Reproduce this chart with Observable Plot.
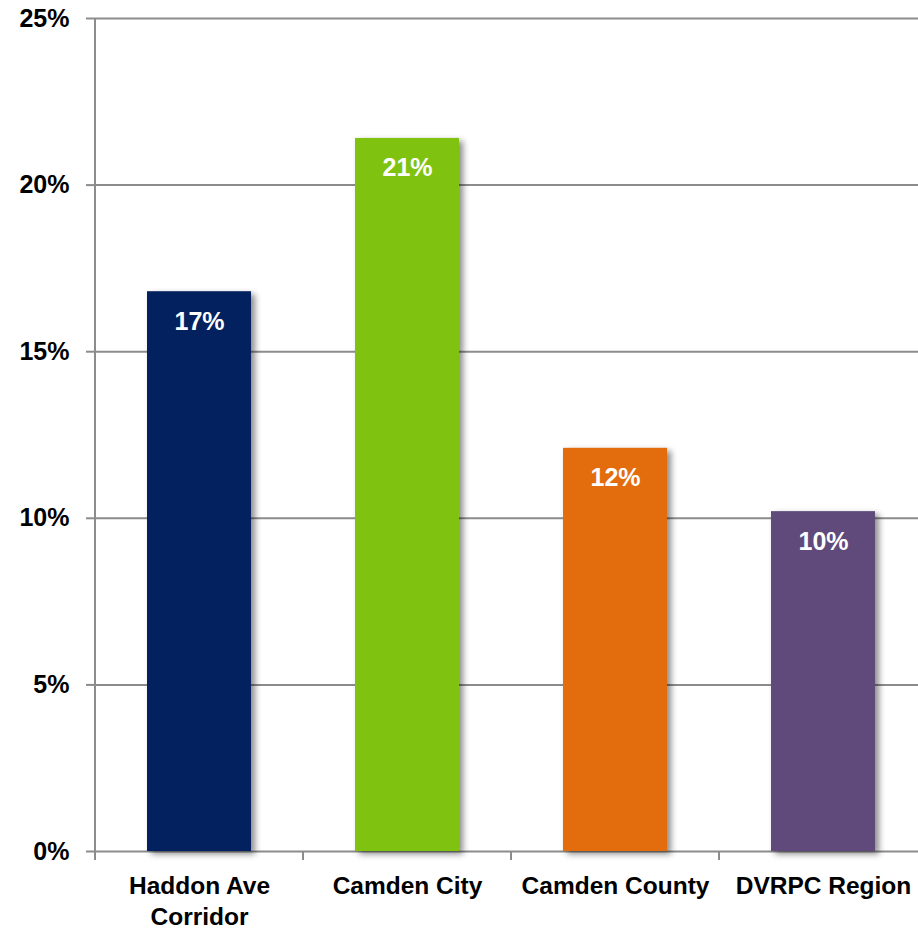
<!DOCTYPE html>
<html>
<head>
<meta charset="utf-8">
<script src="https://cdn.jsdelivr.net/npm/d3@7"></script>
<script src="https://cdn.jsdelivr.net/npm/@observablehq/plot@0.6"></script>
<style>
  html, body { margin: 0; padding: 0; background: #fff; }
  #chart svg { display: block; }
</style>
</head>
<body>
<div id="chart"></div>
<script>
const categories = ["Haddon Ave Corridor", "Camden City", "Camden County", "DVRPC Region"];
const axisLabels = ["Haddon Ave\nCorridor", "Camden City", "Camden County", "DVRPC Region"];
const values = [16.8, 21.4, 12.1, 10.2];
const valueLabels = ["17%", "21%", "12%", "10%"];
const colors = ["#02215E", "#7FC310", "#E36C0C", "#604A7B"];
const yTicks = [0, 5, 10, 15, 20, 25];

const data = categories.map((c, i) => ({category: c, value: values[i], label: valueLabels[i], axis: axisLabels[i]}));

const font = "'Liberation Sans', Arial, sans-serif";

// Separator ticks + vertical axis line, derived from the x scale
function separators(index, scales, values, dims) {
  const g = d3.create("svg:g");
  const x = scales.x;
  const bw = x.bandwidth();
  const step = x.step();
  const bottom = dims.height - dims.marginBottom;
  const bounds = x.domain().map(c => x(c) - (step - bw) / 2);
  g.append("line")
    .attr("x1", bounds[0]).attr("x2", bounds[0])
    .attr("y1", dims.marginTop).attr("y2", bottom + 9)
    .attr("stroke", "#8c8c8c").attr("stroke-width", 2);
  bounds.slice(1).forEach(b => {
    g.append("line")
      .attr("x1", b).attr("x2", b)
      .attr("y1", bottom).attr("y2", bottom + 9)
      .attr("stroke", "#8c8c8c").attr("stroke-width", 2);
  });
  return g.node();
}

const chart = Plot.plot({
  width: 918,
  height: 930,
  marginTop: 18,
  marginBottom: 79,
  marginLeft: 95,
  marginRight: 0,
  style: {fontFamily: font, fontSize: "24px", fontWeight: "bold", color: "#000", background: "#fff"},
  x: {domain: categories, range: [94, 927], paddingInner: 0.5, paddingOuter: 0.25, axis: null},
  y: {domain: [0, 25], range: [851, 18], axis: null},
  color: {domain: categories, range: colors},
  marks: [
    Plot.gridY(yTicks, {stroke: "#8c8c8c", strokeOpacity: 1, strokeWidth: 2}),
    Plot.axisY(yTicks, {label: null, tickSize: 9, tickPadding: 17, tickFormat: d => d + "%", stroke: "#8c8c8c", strokeWidth: 2, fill: "#000", fontSize: 25, fontWeight: "bold"}),
    Plot.barY(data, {x: "category", y: "value", fill: "category"}),
    Plot.text(data, {x: "category", y: "value", text: "label", dy: 30, fill: "#fff", fontSize: 25, fontWeight: "bold"}),
    Plot.text(data, {x: "category", text: "axis", frameAnchor: "bottom", lineAnchor: "top", dy: 21, lineHeight: 1.25, fill: "#000", fontSize: 24.5, fontWeight: "bold"}),
    separators
  ]
});

d3.select(chart).selectAll('g[aria-label="bar"] rect')
  .style("filter", "drop-shadow(4px 3px 3px rgba(0,0,0,0.45))");

document.getElementById("chart").appendChild(chart);
</script>
</body>
</html>
